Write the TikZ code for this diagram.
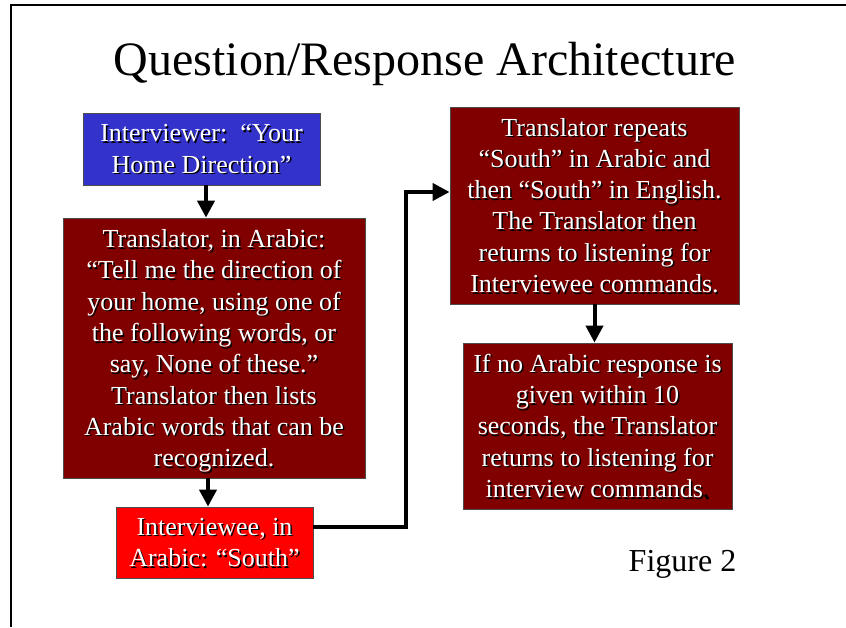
\documentclass[tikz,border=0pt]{standalone}
\usepackage{fontspec}
\setmainfont{Liberation Serif}
\usetikzlibrary{arrows.meta,calc}
\definecolor{boxblue}{RGB}{51,51,204}
\definecolor{boxmaroon}{RGB}{128,0,0}
\definecolor{boxred}{RGB}{255,0,0}
\newcommand\shadowedtext[3]{%
  \node[shadowtxt] (#1s) at ($#2+(1.5,1.5)$) {#3};
  \node[maintxt] (#1t) at #2 {#3};}
\begin{document}
\begin{tikzpicture}[x=1pt,y=-1pt,
  box/.style={draw=black!70, line width=0.8pt, inner sep=0pt},
  txt/.style={align=center, font=\fontsize{26}{31.3}\selectfont, inner sep=0pt},
  shadowtxt/.style={txt, text=black},
  maintxt/.style={txt, text=white},
  arr/.style={line width=4pt, -{Triangle[length=17pt,width=17pt]}}]
\useasboundingbox (0,0) rectangle (846,627);
\draw[line width=2pt] (11,627) -- (11,5) -- (846,5);

\node[font=\fontsize{48}{58}\selectfont, anchor=base, inner sep=0pt] (title) at (425,75) {Question/Response Architecture};

\node[box, fill=boxblue, minimum width=237pt, minimum height=72pt] (b1) at (201.5,149) {};
\node[box, fill=boxmaroon, minimum width=302pt, minimum height=260pt] (b2) at (214,348) {};
\node[box, fill=boxred, minimum width=197pt, minimum height=71pt] (b3) at (214.5,542.5) {};
\node[box, fill=boxmaroon, minimum width=289pt, minimum height=197pt] (b4) at (594.5,205.5) {};
\node[box, fill=boxmaroon, minimum width=269pt, minimum height=166pt] (b5) at (597.5,426) {};

\shadowedtext{b1}{(b1)}{Interviewer:\ \ “Your\\Home Direction”}
\shadowedtext{b2}{($(b2)+(0,3)$)}{Translator, in Arabic:\\“Tell me the direction of\\your home, using one of\\the following words, or\\say, None of these.”\\Translator then lists\\Arabic words that can be\\recognized.}
\shadowedtext{b3}{(b3)}{Interviewee, in\\Arabic: “South”}
\shadowedtext{b4}{(b4)}{Translator repeats\\“South” in Arabic and\\then “South” in English.\\The Translator then\\returns to listening for\\Interviewee commands.}
\shadowedtext{b5}{(b5)}{If no Arabic response is\\given within 10\\seconds, the Translator\\returns to listening for\\interview commands{\color{black}.}}

\draw[arr] ([xshift=4.5pt]b1.south) -- ([xshift=4.5pt]b1.south |- b2.north);
\draw[arr] ([xshift=-6pt]b2.south) -- ([xshift=-6pt]b2.south |- b3.north);
\draw[arr] ([yshift=15.5pt]b3.east) -- ++(93,0) |- ([yshift=13.5pt]b4.west);
\draw[arr] (b4.south) -- (b4.south |- b5.north);

\node[font=\fontsize{32}{38}\selectfont, anchor=base, inner sep=0pt] (fig) at (682.5,571.5) {Figure 2};
\end{tikzpicture}
\end{document}
